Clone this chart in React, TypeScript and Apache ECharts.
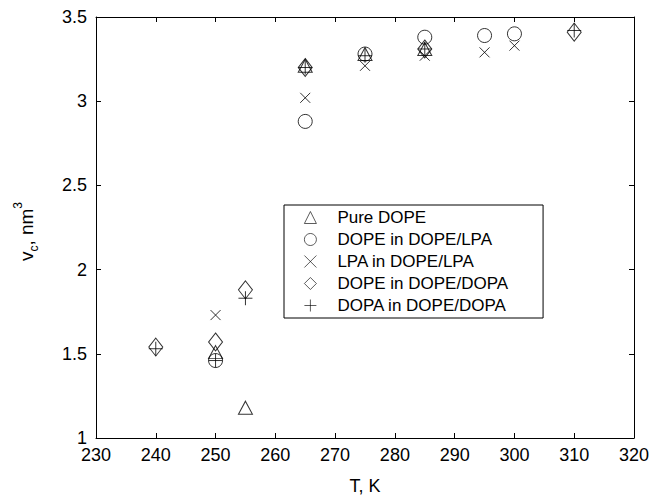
import React, { useEffect, useRef } from "react";
import * as echarts from "echarts";

const tickLabelsX = [230, 240, 250, 260, 270, 280, 290, 300, 310, 320];
const tickLabelsY = [1, 1.5, 2, 2.5, 3, 3.5];

const seriesNames = [
  "Pure DOPE",
  "DOPE in DOPE/LPA",
  "LPA in DOPE/LPA",
  "DOPE in DOPE/DOPA",
  "DOPA in DOPE/DOPA",
];

const pureDopeT = [250, 255, 265, 275, 285];
const pureDopeV = [1.51, 1.18, 3.21, 3.28, 3.31];

const dopeLpaT = [250, 265, 275, 285, 295, 300];
const dopeLpaV = [1.46, 2.88, 3.28, 3.38, 3.39, 3.4];

const lpaLpaT = [250, 265, 275, 285, 295, 300];
const lpaLpaV = [1.73, 3.02, 3.21, 3.27, 3.29, 3.33];

const dopeDopaT = [240, 250, 255, 265, 285, 310];
const dopeDopaV = [1.54, 1.57, 1.88, 3.2, 3.31, 3.41];

const dopaDopaT = [240, 250, 255, 265, 275, 285, 310];
const dopaDopaV = [1.53, 1.46, 1.83, 3.2, 3.27, 3.31, 3.42];

const FONT = "'Liberation Sans', Arial, Helvetica, sans-serif";
const PLUS = "path://M0,7H14M7,0V14";
const CROSS = "path://M0,0L10,10M10,0L0,10";

const zip = (xs: number[], ys: number[]) => xs.map((x, i) => [x, ys[i]]);

export default function App() {
  const ref = useRef<HTMLDivElement>(null);
  useEffect(() => {
    if (!ref.current) return;
    const chart = echarts.init(ref.current, null, { renderer: "svg" });
    const markerStyle = {
      color: "transparent",
      borderColor: "#000",
      borderWidth: 1,
    };
    const mk = (name: string, data: number[][], symbol: string, size: any) => ({
      type: "scatter",
      name,
      data,
      symbol,
      symbolSize: size,
      itemStyle: markerStyle,
      emphasis: { disabled: true },
      xAxisIndex: 0,
      yAxisIndex: 0,
    });
    const axisCommon = {
      type: "value",
      axisLine: { show: true, lineStyle: { color: "#000", width: 1 } },
      axisTick: { show: true, inside: true, length: 5, lineStyle: { color: "#000" } },
      splitLine: { show: false },
    };
    chart.setOption({
      animation: false,
      backgroundColor: "#fff",
      textStyle: { fontFamily: FONT },
      grid: { left: 96, right: 30, top: 17, bottom: 59, containLabel: false },
      xAxis: [
        {
          ...axisCommon,
          position: "bottom",
          min: tickLabelsX[0],
          max: tickLabelsX[tickLabelsX.length - 1],
          interval: 10,
          axisLabel: { color: "#000", fontSize: 18, fontFamily: FONT, margin: 8 },
          name: "T, K",
          nameLocation: "middle",
          nameGap: 39,
          nameTextStyle: { color: "#000", fontSize: 18, fontFamily: FONT },
        },
        {
          ...axisCommon,
          position: "top",
          min: tickLabelsX[0],
          max: tickLabelsX[tickLabelsX.length - 1],
          interval: 10,
          axisLabel: { show: false },
        },
      ],
      yAxis: [
        {
          ...axisCommon,
          position: "left",
          min: tickLabelsY[0],
          max: tickLabelsY[tickLabelsY.length - 1],
          interval: 0.5,
          axisLabel: { color: "#000", fontSize: 18, fontFamily: FONT, margin: 9 },
          name: "{b|v}{sub|c}{b|, nm}{sup|3}",
          nameLocation: "middle",
          nameGap: 56,
          nameRotate: 90,
          nameTextStyle: {
            color: "#000",
            fontSize: 18,
            fontFamily: FONT,
            padding: [0, 8, 0, 0],
            rich: {
              b: { fontSize: 19, fontFamily: FONT, color: "#000", lineHeight: 28, verticalAlign: "middle" },
              sub: { fontSize: 12, fontFamily: FONT, color: "#000", lineHeight: 28, verticalAlign: "bottom" },
              sup: { fontSize: 12, fontFamily: FONT, color: "#000", lineHeight: 28, verticalAlign: "top" },
            },
          },
        },
        {
          ...axisCommon,
          position: "right",
          min: tickLabelsY[0],
          max: tickLabelsY[tickLabelsY.length - 1],
          interval: 0.5,
          axisLabel: { show: false },
        },
      ],
      legend: {
        orient: "vertical",
        left: 284,
        top: 205,
        padding: [4, 35, 4, 20],
        itemWidth: 12,
        itemHeight: 12,
        itemGap: 5,
        backgroundColor: "#fff",
        borderColor: "#000",
        borderWidth: 1,
        borderRadius: 0,
        selectedMode: false,
        itemStyle: { color: "transparent", borderColor: "#000", borderWidth: 0.8 },
        textStyle: {
          color: "#000",
          fontSize: 17,
          lineHeight: 16,
          fontFamily: FONT,
          padding: [0, 0, 0, 16],
        },
        data: seriesNames,
      },
      series: [
        mk(seriesNames[0], zip(pureDopeT, pureDopeV), "triangle", [14, 13]),
        mk(seriesNames[1], zip(dopeLpaT, dopeLpaV), "circle", 14),
        mk(seriesNames[2], zip(lpaLpaT, lpaLpaV), CROSS, 10),
        mk(seriesNames[3], zip(dopeDopaT, dopeDopaV), "diamond", [14, 18]),
        mk(seriesNames[4], zip(dopaDopaT, dopaDopaV), PLUS, 14),
      ],
    });
    return () => chart.dispose();
  }, []);
  return (
    <div
      ref={ref}
      style={{ position: "fixed", left: 0, top: 0, width: 664, height: 500, background: "#fff" }}
    />
  );
}
